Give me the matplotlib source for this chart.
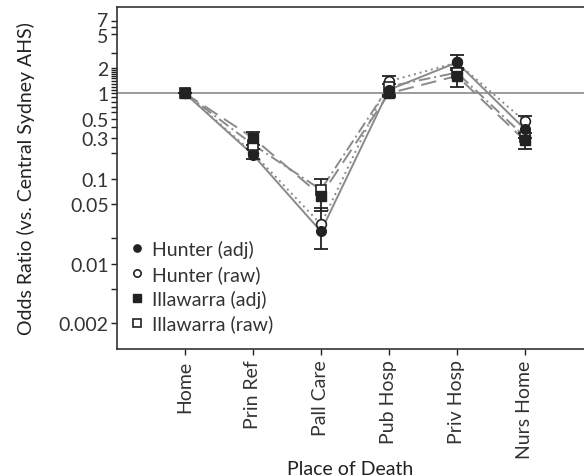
import numpy as np
import matplotlib
matplotlib.use("Agg")
import matplotlib.pyplot as plt
from matplotlib.ticker import FixedLocator, NullLocator
from matplotlib.transforms import ScaledTranslation

plt.rcParams['font.family'] = ['Lato', 'DejaVu Sans']

# categories and odds ratios
places = ['Home', 'Prin Ref', 'Pall Care', 'Pub Hosp', 'Priv Hosp', 'Nurs Home']
hunter_adj = [1.0, 0.19, 0.024, 1.1, 2.3, 0.38]
hunter_adj_lo = [1.0, 0.17, 0.015, 0.95, 1.9, 0.30]
hunter_adj_hi = [1.0, 0.22, 0.045, 1.3, 2.8, 0.54]
hunter_raw = [1.0, 0.2, 0.029, 1.38, 2.3, 0.47]
illa_adj = [1.0, 0.30, 0.063, 1.0, 1.6, 0.28]
illa_adj_lo = [1.0, 0.25, 0.042, 0.9, 1.2, 0.22]
illa_adj_hi = [1.0, 0.35, 0.10, 1.58, 2.0, 0.34]
illa_raw = [1.0, 0.25, 0.074, 1.2, 1.75, 0.31]

ytick_vals = [7, 6, 5, 3, 2, 1.9, 1.8, 1.7, 1.6, 1.5, 1.4, 1.3, 1.2, 1.1, 1,
              0.9, 0.8, 0.7, 0.6, 0.5, 0.4, 0.3, 0.2, 0.1, 0.05, 0.02, 0.01,
              0.005, 0.002]
ytick_labeled = {7: '7', 5: '5', 2: '2', 1: '1', 0.5: '0.5', 0.3: '0.3',
                 0.1: '0.1', 0.05: '0.05', 0.01: '0.01', 0.002: '0.002'}

x = np.arange(1, len(places) + 1)
gray = '#8a8a8a'

fig = plt.figure(figsize=(5.84, 4.77), dpi=100)
ax = fig.add_axes([117 / 584, 1 - 350 / 477, 1 - 117 / 584, (350 - 8) / 477])

ax.axhline(1, color=gray, lw=1.2, zorder=1)

def err(v, lo, hi):
    v = np.array(v); return [v - np.array(lo), np.array(hi) - v]

ax.plot(x, hunter_adj, color=gray, lw=1.4, ls='-', zorder=2)
ax.plot(x, hunter_raw, color=gray, lw=1.4, ls=(0, (1, 2)), zorder=2)
ax.plot(x, illa_adj, color=gray, lw=1.4, ls=(0, (8, 4)), zorder=2)
ax.plot(x, illa_raw, color=gray, lw=1.4, ls=(0, (6, 2, 1, 2)), zorder=2)

ax.errorbar(x, hunter_adj, yerr=err(hunter_adj, hunter_adj_lo, hunter_adj_hi),
            fmt='none', ecolor='#222222', elinewidth=1.3, capsize=5, capthick=1.3, zorder=3)
ax.errorbar(x, illa_adj, yerr=err(illa_adj, illa_adj_lo, illa_adj_hi),
            fmt='none', ecolor='#222222', elinewidth=1.3, capsize=5, capthick=1.3, zorder=3)

ax.plot(x, hunter_raw, ls='none', marker='o', ms=7, mfc='white', mec='#222222', mew=1.2, zorder=4, label='Hunter (raw)')
ax.plot(x, illa_raw, ls='none', marker='s', ms=7, mfc='white', mec='#222222', mew=1.2, zorder=4, label='Illawarra (raw)')
ax.plot(x, hunter_adj, ls='none', marker='o', ms=7, color='#222222', zorder=5, label='Hunter (adj)')
ax.plot(x, illa_adj, ls='none', marker='s', ms=7, color='#222222', zorder=5, label='Illawarra (adj)')

ax.set_yscale('log')
ax.set_ylim(0.001, 10.3)
ax.set_xlim(0, 6.87)
ax.yaxis.set_major_locator(FixedLocator(ytick_vals))
ax.yaxis.set_minor_locator(NullLocator())
ax.set_yticklabels([ytick_labeled.get(v, '') for v in ytick_vals])
ax.set_xticks(x)
ax.set_xticklabels(places, rotation=90)
ax.tick_params(axis='both', labelsize=14, colors='#222222', labelcolor='#333333', length=4, width=1)
ax.tick_params(axis='y', pad=2)

# nudge the crowded "7" and "5" labels apart a little
ticks = ax.yaxis.get_major_ticks()
for t, dy in [(ticks[0], 2), (ticks[2], -1)]:
    lab = t.label1
    lab.set_transform(lab.get_transform() + ScaledTranslation(0, dy / 72, fig.dpi_scale_trans))

ax.spines['right'].set_visible(False)
for s in ['left', 'bottom', 'top']:
    ax.spines[s].set_color('#333333')
    ax.spines[s].set_linewidth(1.2)

ax.set_xlabel('Place of Death', fontsize=14, color='#222222', labelpad=2)
ax.set_ylabel('Odds Ratio (vs. Central Sydney AHS)', fontsize=14, color='#222222', labelpad=17)

h, l = ax.get_legend_handles_labels()
order = [l.index(n) for n in ['Hunter (adj)', 'Hunter (raw)', 'Illawarra (adj)', 'Illawarra (raw)']]
leg = ax.legend([h[i] for i in order], [l[i] for i in order], loc='upper left',
                bbox_to_anchor=(-0.005, 0.37), frameon=False, fontsize=14,
                handlelength=0.5, handletextpad=0.5, labelspacing=0.35, markerscale=0.75)
for t in leg.get_texts():
    t.set_color('#333333')

fig.savefig('out.png', dpi=100)
